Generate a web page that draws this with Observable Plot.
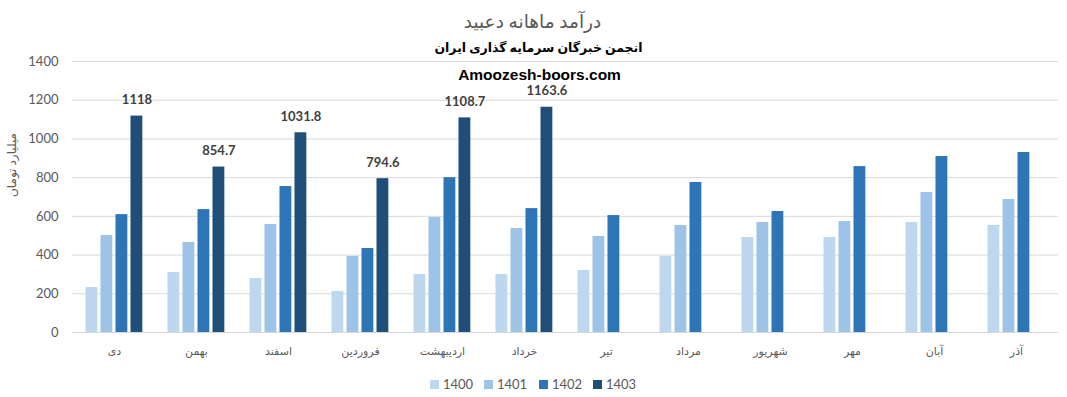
<!DOCTYPE html>
<html>
<head>
<meta charset="utf-8">
<script src="https://cdn.jsdelivr.net/npm/d3@7"></script>
<script src="https://cdn.jsdelivr.net/npm/@observablehq/plot@0.6"></script>
<style>
  body { margin: 0; background: #fff; }
  #wrap { position: relative; width: 1067px; height: 397px; }
  #legend { position: absolute; left: 0; top: 375px; width: 1067px; height: 18px; font-family: Lato, "DejaVu Sans", sans-serif; font-size: 13px; color: #595959; }
  #legend .item { position: absolute; top: 0; display: flex; align-items: center; height: 18px; }
  #legend .sw { width: 9px; height: 9px; margin-right: 4px; }
</style>
</head>
<body>
<div id="wrap"><div id="legend"></div></div>
<script>
const months = ["دی","بهمن","اسفند","فروردین","اردیبهشت","خرداد","تیر","مرداد","شهریور","مهر","آبان","آذر"];
const years = ["1400","1401","1402","1403"];
const v1400 = [232,310,279,212,300,300,320,393,491,491,568,553];
const v1401 = [501,465,558,393,594,537,496,553,568,573,723,687];
const v1402 = [609,635,754,434,800,640,604,775,625,857,909,930];
const v1403 = [1118,854.7,1031.8,794.6,1108.7,1163.6,null,null,null,null,null,null];
const yTicks = [0,200,400,600,800,1000,1200,1400];
const colors = ["#BDD7EE","#9DC3E6","#2E75B6","#1F4E79"];
const title1 = "درآمد ماهانه دعبید";
const title2 = "انجمن خبرگان سرمایه گذاری ایران";
const title3 = "Amoozesh-boors.com";
const yLabel = "میلیارد تومان";

const series = [v1400, v1401, v1402, v1403];
const W = 1067, H = 397, ml = 72, mr = 9, mt = 61, mb = 65;
const step = (W - ml - mr) / months.length;
const barW = 12, gStart = 12.5, gStep = 15;

const marks = [
  Plot.ruleY(yTicks, {stroke: "#d9d9d9", strokeWidth: 1})
];
series.forEach((vals, i) => {
  const data = months.map((m, j) => ({month: m, value: vals[j]})).filter(d => d.value != null);
  const L = gStart + gStep * i;
  marks.push(Plot.barY(data, {x: "month", y: "value", fill: colors[i], insetLeft: L, insetRight: step - L - barW}));
  if (i === 3) {
    marks.push(Plot.text(data, {x: "month", y: "value", text: d => String(d.value), dx: L + barW / 2 - step / 2, dy: -16, fontWeight: "bold", fontSize: 13, fill: "#404040"}));
  }
});
marks.push(
  Plot.axisY({ticks: yTicks, tickFormat: d => String(d), tickSize: 0, tickPadding: 14, fontSize: 13, color: "#595959", label: null}),
  Plot.axisX({tickSize: 0, tickPadding: 15, fontSize: 11, color: "#595959", label: null}),
  Plot.text([yLabel], {frameAnchor: "left", dx: -60, rotate: -90, fontSize: 12, fill: "#595959"}),
  Plot.text([title1], {frameAnchor: "top", dx: -33, dy: -47, fontSize: 18.5, fill: "#595959"}),
  Plot.text([title2], {frameAnchor: "top", dx: -27, dy: -18, fontSize: 12.5, fontWeight: "bold", fill: "#000"}),
  Plot.text([title3], {frameAnchor: "top", dx: -26, dy: 7, fontSize: 15.5, fontWeight: "bold", fill: "#000", fontFamily: "'Liberation Sans', sans-serif"})
);

const plot = Plot.plot({
  width: W, height: H,
  marginLeft: ml, marginRight: mr, marginTop: mt, marginBottom: mb,
  style: {fontFamily: "Lato, 'DejaVu Sans', sans-serif", background: "#fff", overflow: "visible"},
  x: {domain: months, padding: 0, axis: null},
  y: {domain: [0, 1400], axis: null},
  marks
});
document.getElementById("wrap").prepend(plot);

const legend = document.getElementById("legend");
const lx = [430, 484, 539, 593];
years.forEach((y, i) => {
  const it = document.createElement("div");
  it.className = "item";
  it.style.left = lx[i] + "px";
  const sw = document.createElement("span");
  sw.className = "sw";
  sw.style.background = colors[i];
  const t = document.createElement("span");
  t.textContent = y;
  it.append(sw, t);
  legend.append(it);
});
</script>
</body>
</html>
